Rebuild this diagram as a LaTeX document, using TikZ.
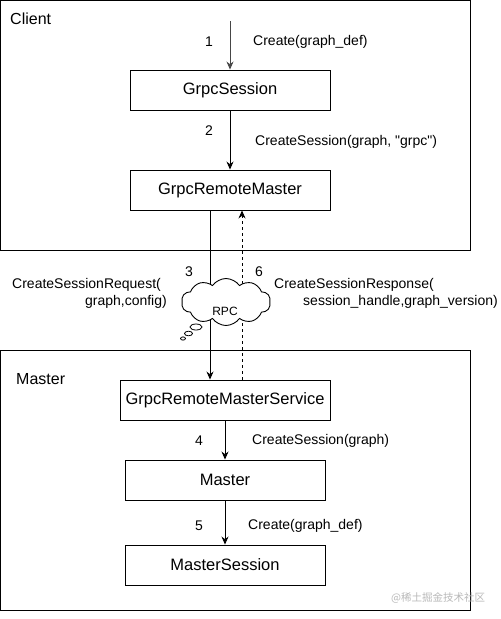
\documentclass[tikz,border=0pt]{standalone}
\usepackage{fontspec}
\setmainfont{Liberation Sans}
\newfontfamily\cjk{Noto Sans CJK SC}
\usetikzlibrary{arrows.meta,shapes.symbols}
\begin{document}
\begin{tikzpicture}[x=1pt,y=-1pt,
  box/.style={draw,line width=0.9pt,minimum width=200pt,minimum height=40pt,inner sep=0pt,font=\fontsize{16.5}{18}\selectfont,anchor=center},
  container/.style={draw,line width=0.9pt},
  lbl/.style={font=\fontsize{14}{16}\selectfont,inner sep=0pt},
  conn/.style={line width=0.9pt,-{Stealth[length=8pt,width=7pt]}}
]
\useasboundingbox (0,0) rectangle (501,619);
\fill[white] (0,0) rectangle (501,619);
% containers
\draw[container] (0.5,0.5) rectangle (470,250);
\node[anchor=west,inner sep=0pt,font=\fontsize{16}{18}\selectfont] (clientlbl) at (10,19) {Client};
\draw[container] (0.5,350) rectangle (470,610);
\node[anchor=west,inner sep=0pt,font=\fontsize{16}{18}\selectfont] (masterlbl) at (16,379) {Master};
% boxes
\node[box] (gs) at (230,90) {GrpcSession};
\node[box] (grm) at (230,190) {GrpcRemoteMaster};
\node[box,minimum width=210pt] (grms) at (225,400) {GrpcRemoteMasterService};
\node[box] (m) at (225,480) {Master};
\node[box] (ms) at (225,565) {MasterSession};
% arrow 1
\coordinate (start) at (230,21);
\draw[conn,draw={rgb,255:red,70;green,70;blue,70}] (start) -- (gs.north);
\node[lbl] (n1) at (209,42) {1};
\node[lbl,anchor=west] (l1) at (253,42) {Create(graph\_def)};
% arrow 2
\draw[conn] (gs.south) -- (grm.north);
\node[lbl] (n2) at (209,131) {2};
\node[lbl,anchor=west] (l2) at (255,142) {CreateSession(graph, \textquotedbl grpc\textquotedbl)};
% RPC lines
\draw[conn] (grm.south -| 210,0) -- (grms.north -| 210,0);
\draw[conn,dashed,dash pattern=on 3pt off 3pt] (grms.north -| 242,0) -- (grm.south -| 242,0);
% cloud
\node[cloud,draw,fill=white,line width=0.9pt,cloud puffs=10,cloud puff arc=110,aspect=2,minimum width=89pt,minimum height=47pt,inner sep=0pt] (rpc) at (226,302) {};
\node[inner sep=0pt,font=\fontsize{12}{14}\selectfont] (rpctxt) at (225,311) {RPC};
\draw[line width=0.8pt,fill=white] (196,327) ellipse (6pt and 3pt);
\draw[line width=0.8pt,fill=white] (188.5,333.5) ellipse (4pt and 2.3pt);
\draw[line width=0.8pt,fill=white] (183,338.5) ellipse (2.5pt and 1.6pt);
\node[lbl] (n3) at (189,272) {3};
\node[lbl] (n6) at (259,272) {6};
\node[lbl,anchor=west] (l3a) at (12,285) {CreateSessionRequest(};
\node[lbl,anchor=east] (l3b) at (167,302) {graph,config)};
\node[lbl,anchor=west] (l6a) at (274,285) {CreateSessionResponse(};
\node[lbl,anchor=east] (l6b) at (498,302) {session\_handle,graph\_version)};
% arrow 4
\draw[conn] (grms.south) -- (m.north);
\node[lbl] (n4) at (199,441) {4};
\node[lbl,anchor=west] (l4) at (252,441) {CreateSession(graph)};
% arrow 5
\draw[conn] (m.south) -- (ms.north);
\node[lbl] (n5) at (199,526) {5};
\node[lbl,anchor=west] (l5) at (248,526) {Create(graph\_def)};
% watermark
\node[inner sep=0pt,anchor=west,text={rgb,255:red,185;green,185;blue,185},font=\cjk\fontsize{10.5}{12}\selectfont] (wm) at (391,598) {@稀土掘金技术社区};
\end{tikzpicture}
\end{document}
